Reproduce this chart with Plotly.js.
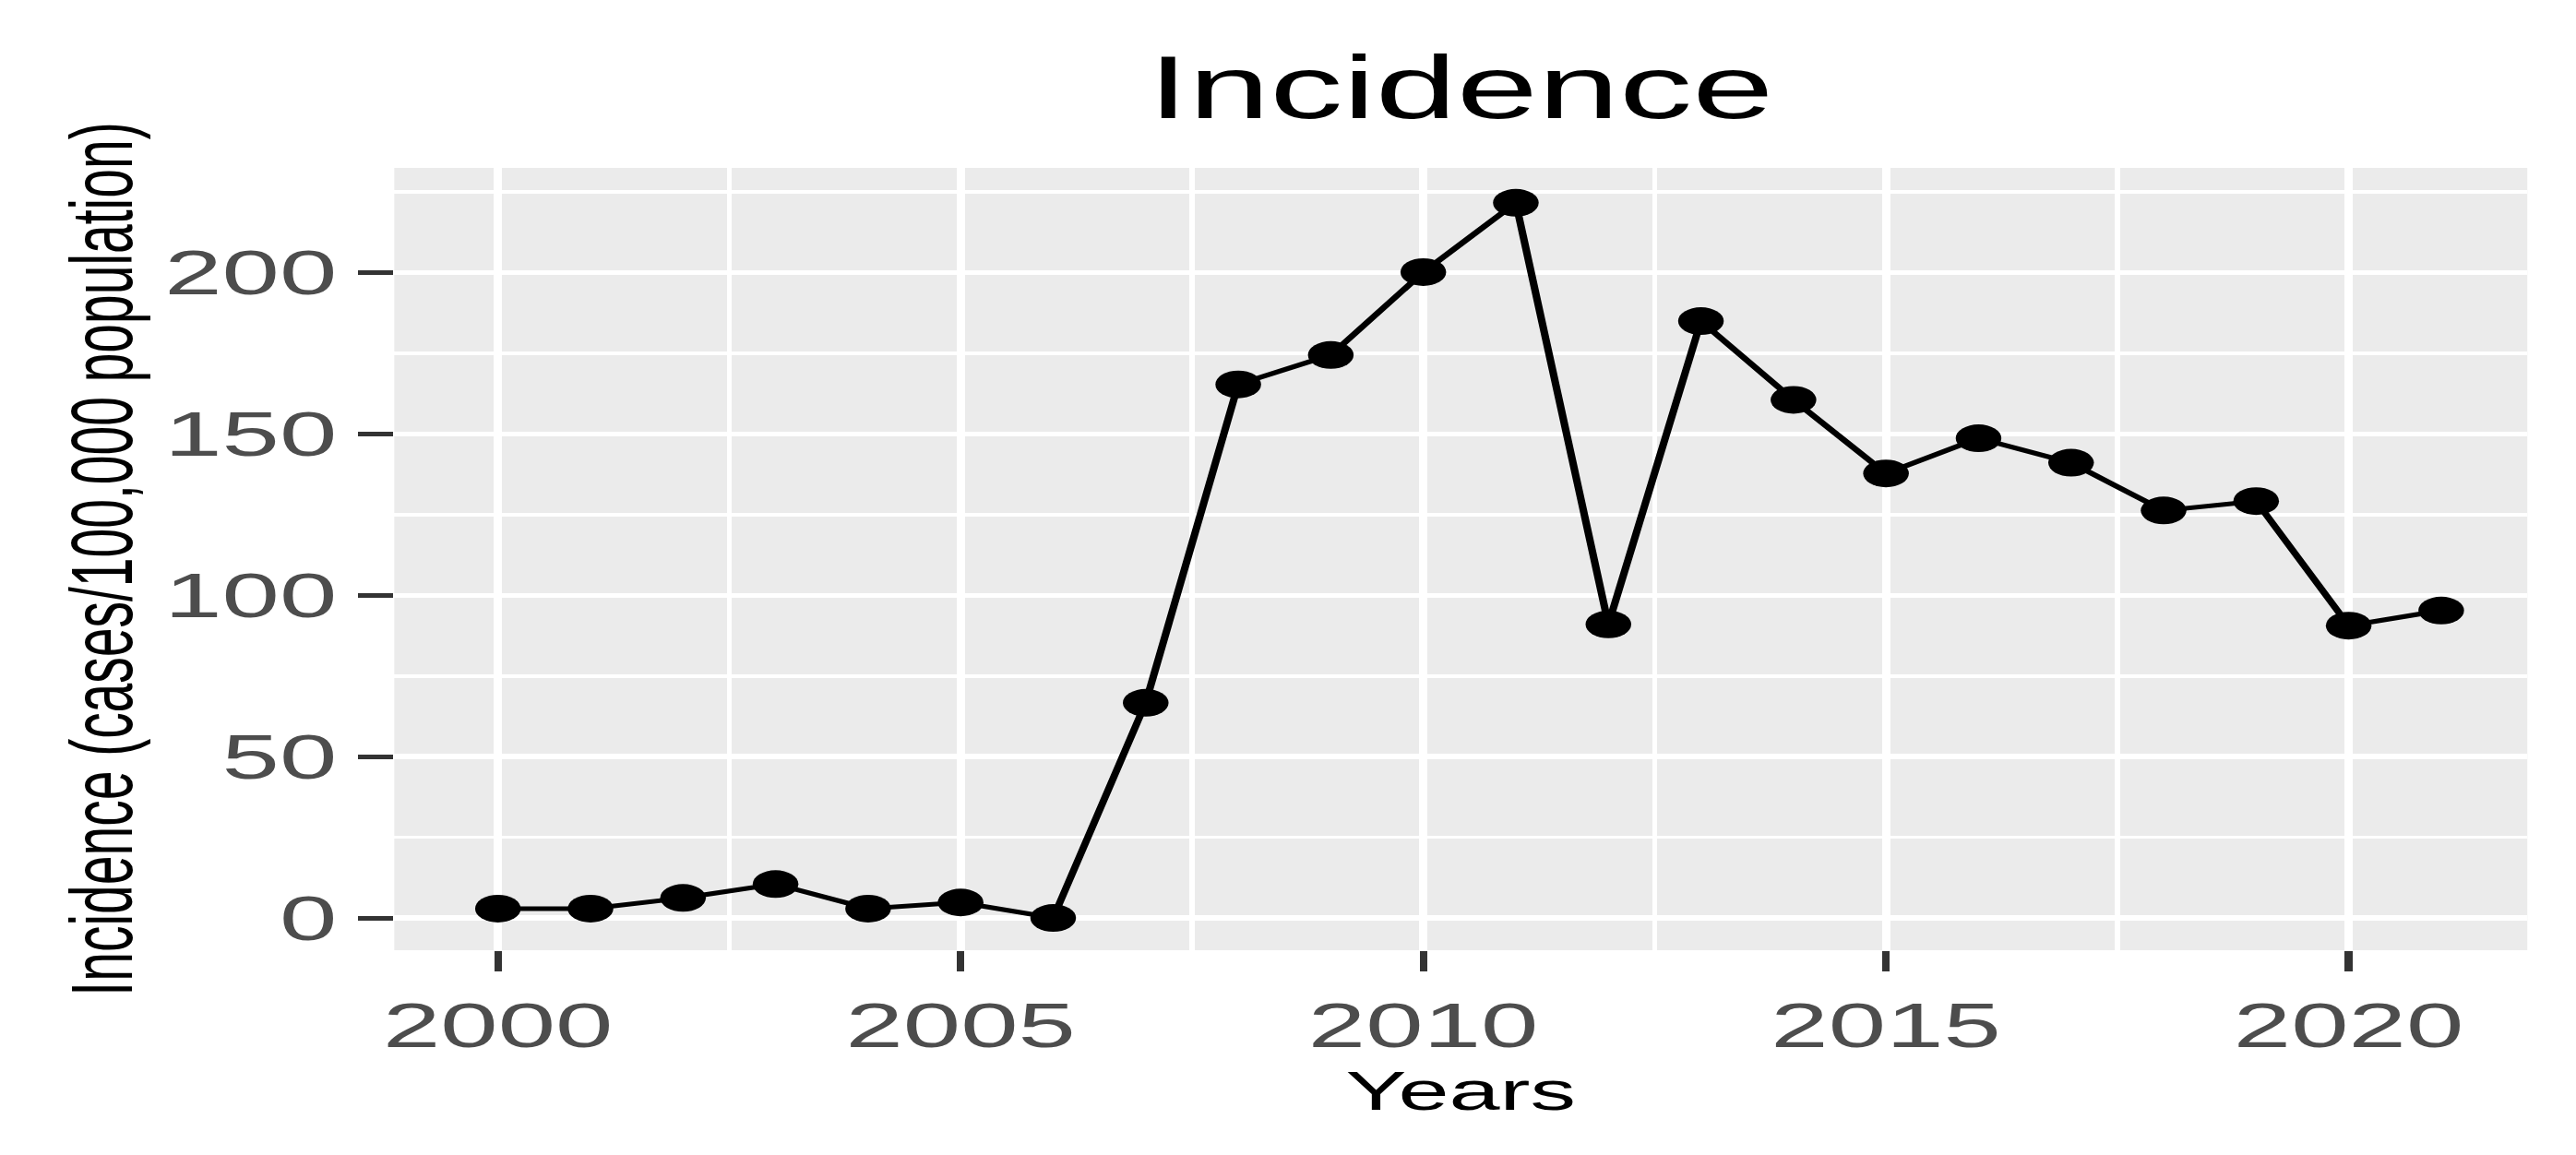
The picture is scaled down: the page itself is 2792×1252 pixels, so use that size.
<!DOCTYPE html>
<html>
<head>
<meta charset="utf-8">
<script src="https://cdn.plot.ly/plotly-3.0.1.min.js"></script>
<style>
  html, body { margin: 0; padding: 0; background: #ffffff; overflow: hidden; }
  #wrap { width: 2792px; height: 1252px; overflow: hidden; }
  #chart { width: 1692px; height: 1252px; transform: scaleX(1.650118); transform-origin: 0 0; }
</style>
</head>
<body>
<div id="wrap"><div id="chart"></div></div>
<script>
// Data
const years = [2000, 2001, 2002, 2003, 2004, 2005, 2006, 2007, 2008, 2009, 2010,
               2011, 2012, 2013, 2014, 2015, 2016, 2017, 2018, 2019, 2020, 2021];
const incidence = [2.9, 2.9, 6.2, 10.5, 2.9, 4.8, 0, 66.7, 165.4, 174.5, 200.2,
                   221.7, 91.0, 185.0, 160.6, 137.8, 148.7, 141.1, 126.3, 129.2, 90.6, 95.3];
const xTickVals = [2000, 2005, 2010, 2015, 2020];
const yTickVals = [0, 50, 100, 150, 200];
const chartTitle = "Incidence";
const xTitle = "Years";
const yTitle = "Incidence (cases/100,000 population)";

const FONT = "Liberation Sans, Arial, sans-serif";

const trace = {
  x: years,
  y: incidence,
  type: "scatter",
  mode: "lines+markers",
  line: { color: "#000000", width: 5 },
  marker: { color: "#000000", size: 30 },
  showlegend: false,
  hoverinfo: "x+y"
};

const layout = {
  width: 1692,
  height: 1252,
  margin: { l: 259.4, r: 31.6, t: 182, b: 222, pad: 0 },
  paper_bgcolor: "#ffffff",
  plot_bgcolor: "#EBEBEB",
  title: {
    text: chartTitle,
    font: { family: FONT, size: 96, color: "#000000" },
    x: 0.5, xref: "paper", xanchor: "center",
    y: 1 - 94 / 1252, yref: "container", yanchor: "middle"
  },
  xaxis: {
    range: [1998.88, 2021.93],
    tickmode: "array",
    tickvals: xTickVals,
    ticktext: xTickVals.map(String),
    ticks: "outside",
    ticklen: 22,
    tickwidth: 5,
    tickcolor: "#333333",
    tickfont: { family: FONT, size: 68, color: "#4D4D4D" },
    showgrid: true,
    gridcolor: "#ffffff",
    gridwidth: 5.5,
    minor: { tickmode: "array", tickvals: [2002.5, 2007.5, 2012.5, 2017.5], showgrid: true, gridcolor: "#ffffff", gridwidth: 3.5, ticks: "" },
    zeroline: false,
    showline: false,
    automargin: false,
    title: { text: xTitle, font: { family: FONT, size: 60, color: "#000000" }, standoff: 6 }
  },
  yaxis: {
    range: [-10, 232.5],
    tickmode: "array",
    tickvals: yTickVals,
    ticktext: yTickVals.map(String),
    ticks: "outside",
    ticklen: 23,
    tickwidth: 5,
    tickcolor: "#333333",
    tickfont: { family: FONT, size: 68, color: "#4D4D4D" },
    ticklabelstandoff: 0,
    showgrid: true,
    gridcolor: "#ffffff",
    gridwidth: 5.5,
    minor: { tickmode: "array", tickvals: [25, 75, 125, 175, 225], showgrid: true, gridcolor: "#ffffff", gridwidth: 3.5, ticks: "" },
    zeroline: false,
    showline: false,
    automargin: false,
    title: { text: yTitle, font: { family: FONT, size: 57, color: "#000000" }, standoff: 2 }
  }
};

Plotly.newPlot("chart", [trace], layout, { displayModeBar: false, staticPlot: true });
</script>
</body>
</html>
